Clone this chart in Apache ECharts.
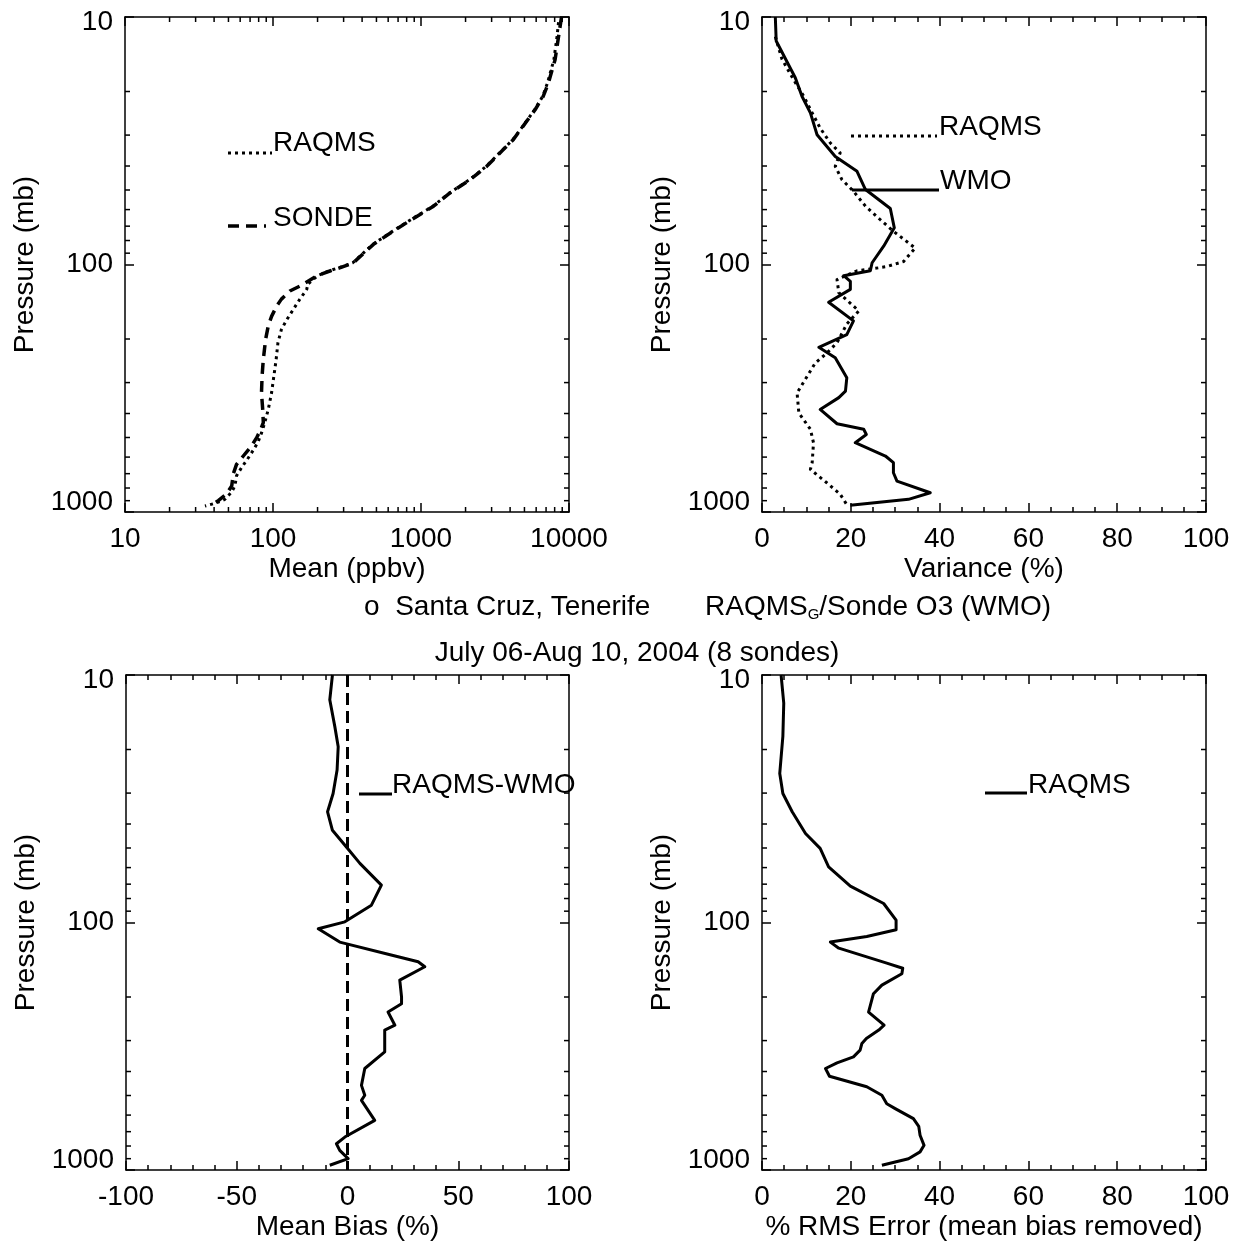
<!DOCTYPE html>
<html>
<head>
<meta charset="utf-8">
<script src="https://cdn.jsdelivr.net/npm/echarts@6/dist/echarts.min.js"></script>
<style>html,body{margin:0;padding:0;background:#fff}#c{width:1233px;height:1241px}</style>
</head>
<body>
<div id="c"></div>
<script>
// ---------------- DATA ----------------
const P_MAJOR = [10, 100, 1000];
const P_MINOR = [20, 30, 40, 50, 60, 70, 80, 90, 200, 300, 400, 500, 600, 700, 800, 900];
const PPBV_MINOR = [20, 30, 40, 50, 60, 70, 80, 90, 200, 300, 400, 500, 600, 700, 800, 900,
                    2000, 3000, 4000, 5000, 6000, 7000, 8000, 9000];

// Panel 1: mean ozone (ppbv)
const sondeMeanP = [10, 12, 14.9, 18.5, 20.9, 23.7, 27.6, 31.3, 34.3, 40.1, 45.4, 51.4, 58.1, 65.8, 73.3, 82.9, 98.4, 103, 106, 111, 122,
                    128, 138, 147, 162, 177, 201, 242, 282, 330, 385, 435, 470, 502, 541, 594, 642, 700, 785, 845, 900, 946];
const sondeMean  = [8900, 8500, 8050, 7250, 6700, 5900, 4900, 4200, 3600, 2780, 2150, 1570, 1215, 865, 650, 477, 349, 285, 245, 198, 153,
                    130, 114, 106, 97.8, 92.9, 89.1, 86, 84.4, 83.6, 85.2, 86, 81.8, 77.4, 71.6, 63, 56.7, 54, 52.6, 48.5, 42.7, 37.5];
const raqmsMeanP = [10.5, 12, 14.9, 18.5, 20.9, 23.7, 27.6, 31.3, 34.3, 40.1, 45.4, 51.4, 58.1, 65.8, 73.3, 82.9, 98.4, 103, 106, 111, 120,
                    126, 138, 152, 167, 183, 207, 242, 282, 330, 385, 435, 480, 519, 557, 605, 660, 714, 785, 830, 889, 918, 946];
const raqmsMean  = [8500, 8300, 7900, 7150, 6650, 5850, 4880, 4180, 3580, 2760, 2130, 1560, 1205, 858, 645, 472, 346, 280, 240, 200, 172,
                    169, 152, 137, 124, 114, 108, 105, 101.4, 97.8, 92.9, 88, 83.6, 79.5, 74.4, 68, 61.5, 56.7, 55.3, 52.6, 47.3, 41.6, 34.7];

// Panel 2: variance (%)
const wmoVarP = [10, 12.5, 17.6, 20.9, 24.4, 29.9, 36.6, 42, 49.8, 59.4, 71.1, 84.3, 98.4, 106, 111, 117, 126, 142, 169, 192, 216, 238,
                 287, 325, 345, 385, 440, 463, 486, 525, 594, 632, 694, 750, 836, 889, 940];
const wmoVar  = [3.0, 3.2, 7.5, 9.0, 10.9, 12.4, 16.5, 21.4, 23.3, 28.9, 29.8, 27.4, 24.8, 24.4, 18.4, 19.9, 19.9, 15.0, 20.6, 19.1, 12.8, 16.5,
                 19.1, 18.8, 17.3, 13.1, 16.9, 22.9, 23.5, 21.0, 27.8, 29.6, 29.6, 30.4, 37.9, 33.0, 19.9];
const raqmsVarP = [12, 12.7, 14.8, 17.9, 20.9, 24.4, 28.1, 32.3, 35.4, 40.1, 45.4, 50.6, 58.1, 65.8, 73.4, 85.8, 97.2, 102, 104.8, 106, 115,
                   130, 154, 174, 207, 228, 250, 330, 398, 463, 525, 632, 673, 762, 847, 934];
const raqmsVar  = [3.0, 3.4, 4.5, 7.1, 9.4, 11.3, 13.1, 15.4, 17.6, 16.5, 18.0, 20.6, 23.3, 26.6, 29.6, 34.5, 31.9, 28.1, 23.6, 21.4, 16.9,
                   17.3, 21.8, 19.1, 16.9, 14.6, 12.0, 7.9, 8.3, 10.9, 11.6, 11.3, 10.9, 14.6, 17.6, 19.1];

// Panel 3: mean bias (%)
const biasP = [10, 12.6, 16.2, 19.5, 24.2, 30.1, 35.7, 42.4, 49.5, 57.7, 70.6, 85.1, 99.4, 106, 120, 136, 144, 151, 171, 200, 213,
               230, 260, 272, 333, 389, 455, 499, 523, 630, 736, 783, 833, 900, 957];
const bias  = [-6.8, -8.0, -5.7, -4.2, -4.7, -6.5, -9.0, -6.8, -0.5, 5.6, 15.3, 10.8, -1.2, -13.2, -3.5, 20.6, 31.9, 34.9, 23.6, 24.4, 24.4,
               18.3, 21.4, 16.8, 16.8, 7.8, 6.3, 7.8, 6.3, 12.3, -1.2, -5.0, -3.5, 0.3, -8.0];
const zeroRefP = [10, 1000];
const zeroRef  = [0, 0];

// Panel 4: RMS error (%)
const rmsP = [10, 13.0, 17.7, 25.0, 30.1, 35.7, 43.7, 50.2, 59.6, 71.3, 83.8, 97.9, 107, 114, 120, 127, 146, 153, 161, 179, 194, 230,
              260, 272, 294, 308, 328, 349, 369, 389, 418, 461, 499, 540, 565, 620, 666, 724, 795, 845, 900, 957];
const rms  = [4.3, 4.9, 4.7, 4.0, 4.7, 6.8, 9.8, 13.1, 15.0, 19.9, 27.4, 30.2, 30.2, 23.6, 15.4, 17.3, 28.1, 31.7, 31.5, 27.0, 25.1, 24.0,
              27.5, 26.3, 23.5, 22.5, 22.1, 20.6, 16.9, 14.3, 15.2, 23.6, 27.0, 28.1, 30.0, 34.1, 35.3, 35.6, 36.5, 35.6, 33.0, 27.0];

// ---------------- CHART ----------------
const FONT = '"Liberation Sans", Arial, Helvetica, sans-serif';
const FS = 28;
const BLACK = '#000';

const grids = [
  {left: 125, top: 17, width: 444, height: 495},
  {left: 762, top: 17, width: 444, height: 495},
  {left: 126, top: 675, width: 443, height: 495},
  {left: 762, top: 675, width: 444, height: 495}
].map(g => Object.assign({containLabel: false, outerBoundsMode: 'none'}, g));

const lineStyleAxis = {color: BLACK, width: 1.5};

function xPair(gi, cfg, name) {
  const common = Object.assign({
    gridIndex: gi,
    axisLine: {show: true, onZero: false, lineStyle: lineStyleAxis},
    axisTick: {show: true, inside: true, length: 9, lineStyle: lineStyleAxis},
    splitLine: {show: false}
  }, cfg);
  const bottom = Object.assign({}, common, {
    position: 'bottom',
    name: name, nameLocation: 'middle', nameGap: 43,
    nameTextStyle: {fontFamily: FONT, fontSize: FS, color: BLACK},
    axisLabel: {show: true, margin: 13, fontFamily: FONT, fontSize: FS, color: BLACK,
                showMinLabel: true, showMaxLabel: true,
                formatter: v => String(Math.round(v))}
  });
  const top = Object.assign({}, common, {position: 'top', axisLabel: {show: false}});
  return [bottom, top];
}

function yPair(gi) {
  const common = {
    gridIndex: gi, type: 'log', logBase: 10, min: 10, max: 1000, inverse: true,
    axisLine: {show: true, onZero: false, lineStyle: lineStyleAxis},
    axisTick: {show: true, inside: true, length: 9, lineStyle: lineStyleAxis},
    splitLine: {show: false}, minorTick: {show: false}
  };
  const left = Object.assign({}, common, {
    position: 'left',
    name: 'Pressure (mb)', nameLocation: 'middle', nameGap: 86, nameRotate: 90,
    nameTextStyle: {fontFamily: FONT, fontSize: FS, color: BLACK},
    axisLabel: {
      show: true, margin: 12, fontFamily: FONT, fontSize: FS, color: BLACK,
      showMinLabel: true, showMaxLabel: true,
      formatter: v => {
        const r = Math.round(v);
        if (r === 10) return '{t|10}';
        if (r === 1000) return '{b|1000}';
        return String(r);
      },
      rich: {
        t: {fontFamily: FONT, fontSize: FS, color: BLACK, padding: [10, 0, 0, 0]},
        b: {fontFamily: FONT, fontSize: FS, color: BLACK, padding: [0, 0, 20, 0]}
      }
    }
  });
  const right = Object.assign({}, common, {position: 'right', axisLabel: {show: false}});
  return [left, right];
}

const valMinor = n => ({show: true, splitNumber: n, length: 5, lineStyle: lineStyleAxis});

const xAxes = [].concat(
  xPair(0, {type: 'log', logBase: 10, min: 10, max: 10000}, 'Mean (ppbv)'),
  xPair(1, {type: 'value', min: 0, max: 100, interval: 20, minorTick: valMinor(4)}, 'Variance (%)'),
  xPair(2, {type: 'value', min: -100, max: 100, interval: 50, minorTick: valMinor(5)}, 'Mean Bias (%)'),
  xPair(3, {type: 'value', min: 0, max: 100, interval: 20, minorTick: valMinor(4)}, '% RMS Error (mean bias removed)')
);
const yAxes = [].concat(yPair(0), yPair(1), yPair(2), yPair(3));

function zip(xs, ps) { return xs.map((x, i) => [x, ps[i]]); }

function curve(gi, xs, ps, dash, width) {
  return {
    type: 'line', xAxisIndex: gi * 2, yAxisIndex: gi * 2,
    data: zip(xs, ps), showSymbol: false, symbol: 'none', smooth: false,
    silent: true, animation: false, clip: true,
    lineStyle: {color: BLACK, width: width || 3, type: dash || 'solid', cap: 'butt', join: 'round'}
  };
}

// minor ticks of log axes, positioned through the axis scale
function yMinorTicks(gi, xRef) {
  return {
    type: 'custom', xAxisIndex: gi * 2, yAxisIndex: gi * 2, silent: true, animation: false, clip: false,
    data: P_MINOR.map(p => [xRef, p]),
    renderItem: (params, api) => {
      const cs = params.coordSys;
      const y = api.coord([api.value(0), api.value(1)])[1];
      const st = {stroke: BLACK, lineWidth: 1.5};
      return {type: 'group', children: [
        {type: 'line', shape: {x1: cs.x, y1: y, x2: cs.x + 5, y2: y}, style: st},
        {type: 'line', shape: {x1: cs.x + cs.width - 5, y1: y, x2: cs.x + cs.width, y2: y}, style: st}
      ]};
    }
  };
}
function xMinorTicksLog(gi, vals, pRef) {
  return {
    type: 'custom', xAxisIndex: gi * 2, yAxisIndex: gi * 2, silent: true, animation: false, clip: false,
    data: vals.map(v => [v, pRef]),
    renderItem: (params, api) => {
      const cs = params.coordSys;
      const x = api.coord([api.value(0), api.value(1)])[0];
      const st = {stroke: BLACK, lineWidth: 1.5};
      return {type: 'group', children: [
        {type: 'line', shape: {x1: x, y1: cs.y, x2: x, y2: cs.y + 5}, style: st},
        {type: 'line', shape: {x1: x, y1: cs.y + cs.height - 5, x2: x, y2: cs.y + cs.height}, style: st}
      ]};
    }
  };
}

const DOT = [3, 4];
const DASH = [11, 7];

const series = [
  curve(0, sondeMean, sondeMeanP, DASH, 3.5),
  curve(0, raqmsMean, raqmsMeanP, DOT, 3),
  curve(1, raqmsVar, raqmsVarP, DOT, 3),
  curve(1, wmoVar, wmoVarP, 'solid', 3),
  curve(2, zeroRef, zeroRefP, [12, 6], 3),
  curve(2, bias, biasP, 'solid', 3),
  curve(3, rms, rmsP, 'solid', 3),
  yMinorTicks(0, 100), yMinorTicks(1, 50), yMinorTicks(2, 0), yMinorTicks(3, 50),
  xMinorTicksLog(0, PPBV_MINOR, 100)
];

const txt = (x, y, text, align, extra) => ({
  type: 'text', x: x, y: y, silent: true,
  style: Object.assign({text: text, fontFamily: FONT, fontSize: FS, fill: BLACK,
    textAlign: align || 'left', textVerticalAlign: 'middle'}, extra || {})
});
const seg = (x1, y1, x2, y2, dash, w) => ({
  type: 'line', silent: true, shape: {x1, y1, x2, y2},
  style: {stroke: BLACK, lineWidth: w || 3, lineDash: dash || null}
});

const graphic = [
  // panel 1 legend
  seg(228, 153, 272, 153, DOT, 3), txt(273, 143, 'RAQMS'),
  seg(228, 226, 266, 226, DASH, 3.5), txt(273, 218, 'SONDE'),
  // panel 2 legend
  seg(851, 136, 937, 136, DOT, 3), txt(939, 127, 'RAQMS'),
  seg(852, 190, 939, 190, null, 3), txt(940, 181, 'WMO'),
  // panel 3 legend
  seg(359, 794, 392, 794, null, 3), txt(392, 785, 'RAQMS-WMO'),
  // panel 4 legend
  seg(985, 793, 1027, 793, null, 3), txt(1028, 785, 'RAQMS'),
  // captions
  txt(364, 607, 'o  Santa Cruz, Tenerife'),
  {
    type: 'text', x: 705, y: 607, silent: true,
    style: {
      text: '{m|RAQMS}{s|G}{m|/Sonde O3 (WMO)}', textVerticalAlign: 'middle',
      rich: {
        m: {fontFamily: FONT, fontSize: FS, fill: BLACK, color: BLACK},
        s: {fontFamily: FONT, fontSize: 15, fill: BLACK, color: BLACK, padding: [15, 0, 0, 0]}
      }
    }
  },
  txt(637, 653, 'July 06-Aug 10, 2004 (8 sondes)', 'center')
];

const chart = echarts.init(document.getElementById('c'), null, {renderer: 'canvas'});
chart.setOption({
  animation: false,
  backgroundColor: '#fff',
  grid: grids,
  xAxis: xAxes,
  yAxis: yAxes,
  series: series,
  graphic: graphic
});
</script>
</body>
</html>
